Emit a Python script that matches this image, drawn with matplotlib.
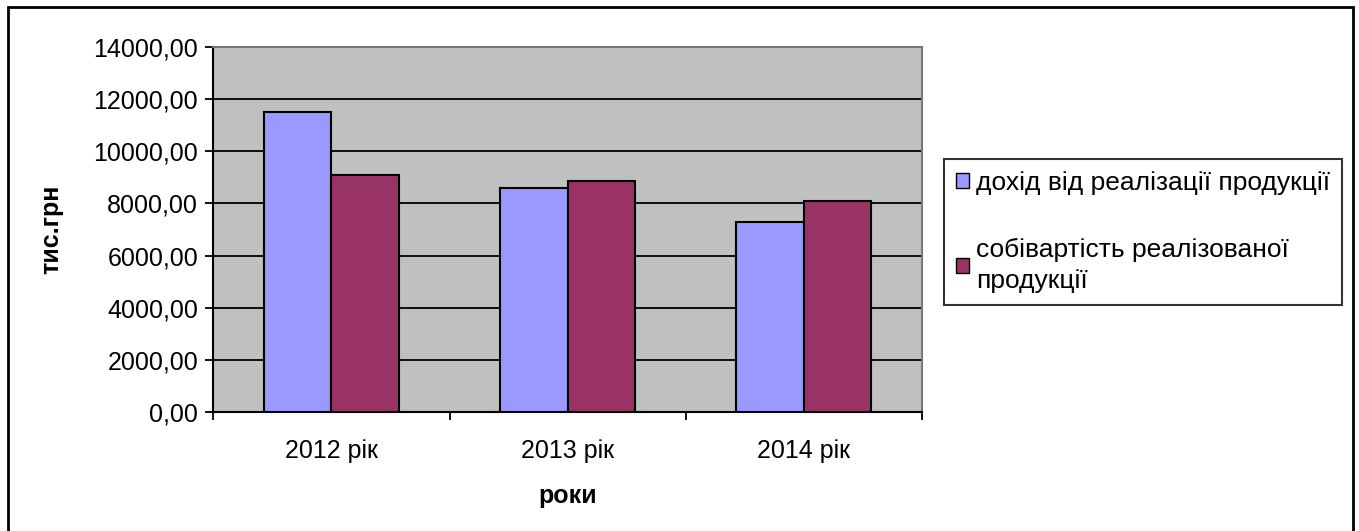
import matplotlib
matplotlib.use("Agg")
import matplotlib.pyplot as plt
from matplotlib.patches import Rectangle, Patch
from matplotlib.ticker import FuncFormatter, FixedLocator
import numpy as np

plt.rcParams['font.family'] = ['Liberation Sans', 'DejaVu Sans']

# Data
years = ["2012 рік", "2013 рік", "2014 рік"]
income = [11500, 8590, 7290]
cost = [9100, 8880, 8080]
series_names = ["дохід від реалізації продукції",
                "собівартість реалізованої\nпродукції"]

W, H = 1359, 531
fig = plt.figure(figsize=(W / 100, H / 100), dpi=100)

# plot area (pixel measured)
left, right, top, bottom = 213.3, 922, 47.3, 411.7
ax = fig.add_axes([left / W, 1 - bottom / H, (right - left) / W, (bottom - top) / H])
ax.set_facecolor("#C0C0C0")

x = np.arange(len(years))
w = 1 / 3.5
ax.bar(x - w / 2, income, w, color="#9999FF", edgecolor="black", linewidth=1.5, zorder=3)
ax.bar(x + w / 2, cost, w, color="#993366", edgecolor="black", linewidth=1.5, zorder=3)

ax.set_xlim(-0.5, 2.5)
ax.set_ylim(0, 14000)
ax.set_yticks(np.arange(0, 14001, 2000))
ax.yaxis.set_major_formatter(FuncFormatter(lambda v, p: f"{v:.2f}".replace(".", ",")))
ax.yaxis.grid(True, color="black", linewidth=1.3, zorder=1)
ax.set_axisbelow(True)

# x ticks at category boundaries, labels at centers
ax.xaxis.set_major_locator(FixedLocator([-0.5, 0.5, 1.5, 2.5]))
ax.xaxis.set_minor_locator(FixedLocator(list(x)))
ax.set_xticklabels([])
ax.set_xticklabels(years, minor=True)
ax.tick_params(axis="x", which="major", length=6, width=1.3, direction="out")
ax.tick_params(axis="x", which="minor", length=0, pad=20, labelsize=18)
ax.tick_params(axis="y", length=6, width=1.3, direction="out", pad=5, labelsize=18)

for s in ["left", "bottom"]:
    ax.spines[s].set_linewidth(1.5)
    ax.spines[s].set_color("black")
for s in ["top", "right"]:
    ax.spines[s].set_linewidth(1.5)
    ax.spines[s].set_color("#777777")

ax.set_ylabel("тис.грн", fontsize=18, fontweight="bold")
ax.yaxis.set_label_coords((63 - left) / (right - left), 0.5)
ax.set_xlabel("роки", fontsize=18, fontweight="bold")
ax.xaxis.set_label_coords(0.5, -(484 - bottom) / (bottom - top))

handles = [Patch(facecolor="#9999FF", edgecolor="black", linewidth=1),
           Patch(facecolor="#993366", edgecolor="black", linewidth=1)]
leg = fig.legend(handles, series_names, loc="upper left",
                 bbox_to_anchor=(944 / W, 1 - 159 / H), fontsize=19,
                 frameon=True, fancybox=False, edgecolor="black",
                 handlelength=0.5, handleheight=0.5, handletextpad=0.25,
                 labelspacing=1.65, borderpad=0.45, borderaxespad=0)
leg.get_frame().set_linewidth(1.5)
for t in leg.get_texts():
    t.set_linespacing(1.35)

# outer chart border
fig.patches.append(Rectangle((8 / W, -0.05), (1353 - 8) / W, 1 - 7 / H + 0.05,
                             transform=fig.transFigure, fill=False,
                             edgecolor="black", linewidth=2))

fig.savefig("out.png", dpi=100)
